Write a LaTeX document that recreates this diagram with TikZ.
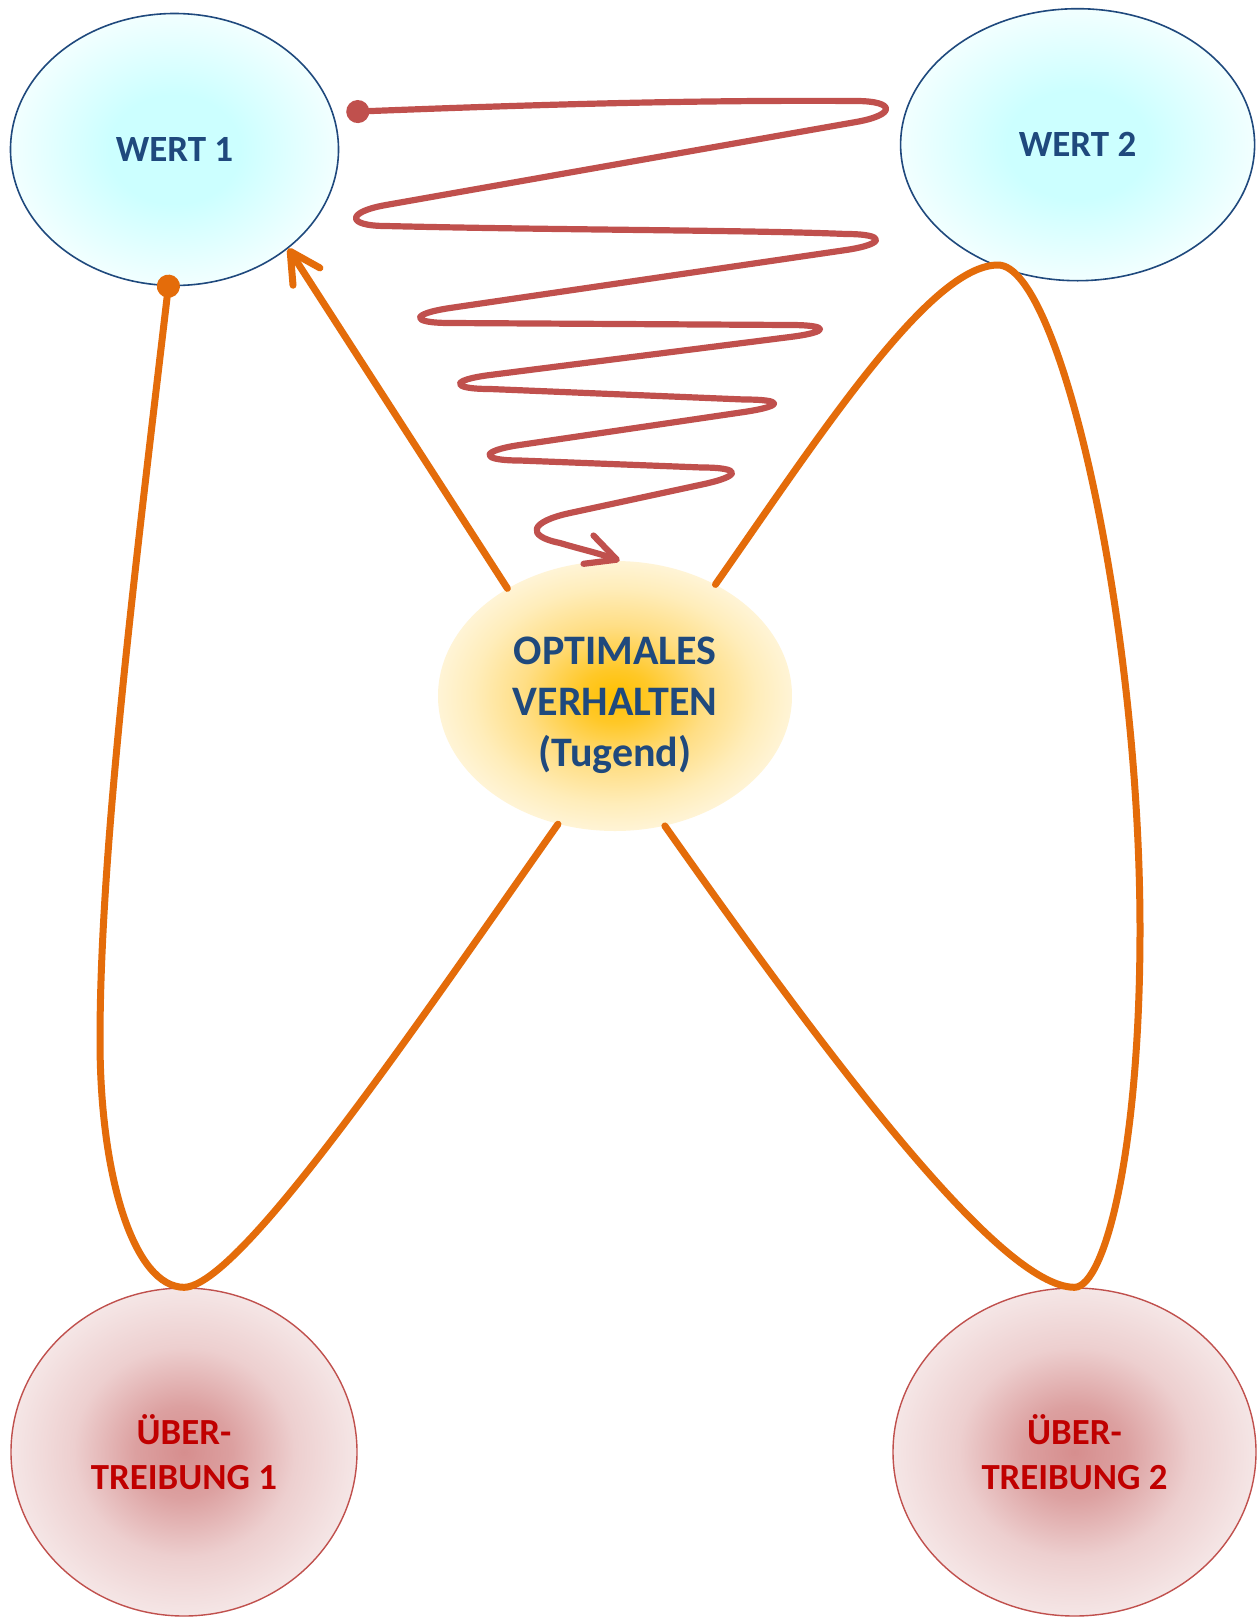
\documentclass[tikz,border=0pt]{standalone}
\usepackage{fontspec}
\setmainfont{Carlito}
\usetikzlibrary{shapes.geometric,arrows.meta,calc}
\definecolor{wblue}{HTML}{1F497D}
\definecolor{orangec}{HTML}{E46C0A}
\definecolor{redc}{HTML}{C0504D}
\definecolor{ubtext}{HTML}{C00000}
\definecolor{ubborder}{HTML}{C0504D}
\definecolor{wcore}{HTML}{CCFFFF}
\definecolor{wedge}{HTML}{F2FFFF}
\definecolor{ocore}{HTML}{FFC000}
\definecolor{omid}{HTML}{FFC828}
\definecolor{olight}{HTML}{FFDE85}
\definecolor{opale}{HTML}{FFEDBA}
\definecolor{oedge}{HTML}{FFF4D6}
\definecolor{ucore}{HTML}{D68E8E}
\definecolor{ucoreb}{HTML}{DCA0A0}
\definecolor{umid}{HTML}{EDCFCF}
\definecolor{uedge}{HTML}{F5E6E6}
\pgfdeclareradialshading{wshade}{\pgfpoint{0bp}{0bp}}{color(0bp)=(wcore); color(10bp)=(wcore); color(25bp)=(wedge); color(50bp)=(wedge)}
\pgfdeclareradialshading{oshade}{\pgfpoint{0bp}{0bp}}{color(0bp)=(ocore); color(5bp)=(omid); color(13bp)=(olight); color(20bp)=(opale); color(25bp)=(oedge); color(50bp)=(white)}
\pgfdeclareradialshading{ushade}{\pgfpoint{0bp}{0bp}}{color(0bp)=(ucore); color(7bp)=(ucoreb); color(16bp)=(umid); color(25bp)=(uedge); color(50bp)=(uedge)}
\begin{document}
\begin{tikzpicture}[x=0.5pt,y=-0.5pt,
  wert/.style={ellipse, draw=wblue, line width=0.8pt, shade, shading=wshade, inner sep=0pt,
    text=wblue, font=\fontsize{18.5}{22}\selectfont\bfseries},
  optnode/.style={ellipse, shade, shading=oshade, inner sep=0pt,
    text=wblue, font=\fontsize{21}{25.5}\selectfont\bfseries},
  uber/.style={ellipse, draw=ubborder, line width=0.7pt, shade, shading=ushade, inner sep=0pt,
    align=center, text=ubtext, font=\fontsize{18.4}{22.5}\selectfont\bfseries},
  orangeline/.style={draw=orangec, line width=3.5pt, line cap=round, line join=round},
  redline/.style={draw=redc, line width=3.1pt, line cap=round, line join=round}]
\fill[white] (0,0) rectangle (1258,1617);
\useasboundingbox (0,0) rectangle (1258,1617);

\node[wert, minimum width=164pt, minimum height=136pt] (w1) at (174.5,149.5) {WERT 1};
\node[wert, minimum width=177pt, minimum height=136pt] (w2) at (1077.6,144.7) {WERT 2};
\node[optnode, minimum width=177pt, minimum height=135pt] (opt) at (615,696)
  {\raisebox{-4.5pt}[\height][\depth]{\begin{tabular}{@{}c@{}}OPTIMALES\\VERHALTEN\\(Tugend)\end{tabular}}};
\node[uber, minimum width=173pt, minimum height=164pt] (ub1) at (184,1452) {ÜBER-\\TREIBUNG 1};
\node[uber, minimum width=181.5pt, minimum height=164pt] (ub2) at (1074.5,1452) {ÜBER-\\TREIBUNG 2};

\coordinate (rs) at ($(w1.east)+(7,-37.5)$);
\coordinate (w1dot) at ($(w1.-92)+(0,-11.5)$);
\coordinate (w2low) at (998,265);

% red spiral
\draw[redline, {Circle[length=11.5pt]}-{Straight Barb[length=15pt,width=15pt,round]}]
 (rs) .. controls (550,104) and (700,100) .. (856,101)
 .. controls (896,101) and (896,115) .. (856,122)
 -- (386,205)
 .. controls (346,212) and (346,226) .. (386,226)
 .. controls (550,230) and (750,230) .. (846,234)
 .. controls (886,234) and (886,244) .. (846,250)
 -- (450,308)
 .. controls (410,314) and (410,323) .. (450,323)
 -- (790,325)
 .. controls (830,325) and (830,332) .. (790,337)
 -- (490,375)
 .. controls (450,380) and (450,389) .. (490,389)
 -- (744,399.5)
 .. controls (784,399.5) and (784,406) .. (744,412)
 -- (519.5,445)
 .. controls (479.5,451) and (479.5,460.5) .. (519.5,460.5)
 -- (702,467.5)
 .. controls (742,467.5) and (742,476) .. (702,484.5)
 -- (570,513)
 .. controls (530,521.6) and (525,536) .. (560,543)
 .. controls (580,549) and (598,553) .. (opt.88);

% orange arrow to WERT 1
\draw[orangeline, -{Straight Barb[length=15pt,width=16pt,round]}] (opt.135) -- (w1.-41.7);

% left loop
\draw[orangeline, -{Circle[length=11.5pt]}] (opt.-114.2)
 .. controls (420,1020) and (240,1287) .. (ub1.north)
 .. controls (135,1287) and (100,1180) .. (100,1040)
 .. controls (100,850) and (135,570) .. (w1dot);

% right loop
\draw[orangeline] (opt.48)
 .. controls (820,435) and (930,265) .. (w2low)
 .. controls (1060,265) and (1140,620) .. (1140,930)
 .. controls (1140,1150) and (1105,1287) .. (ub2.north)
 .. controls (1000,1287) and (830,1060) .. (opt.-69.7);
\end{tikzpicture}
\end{document}
